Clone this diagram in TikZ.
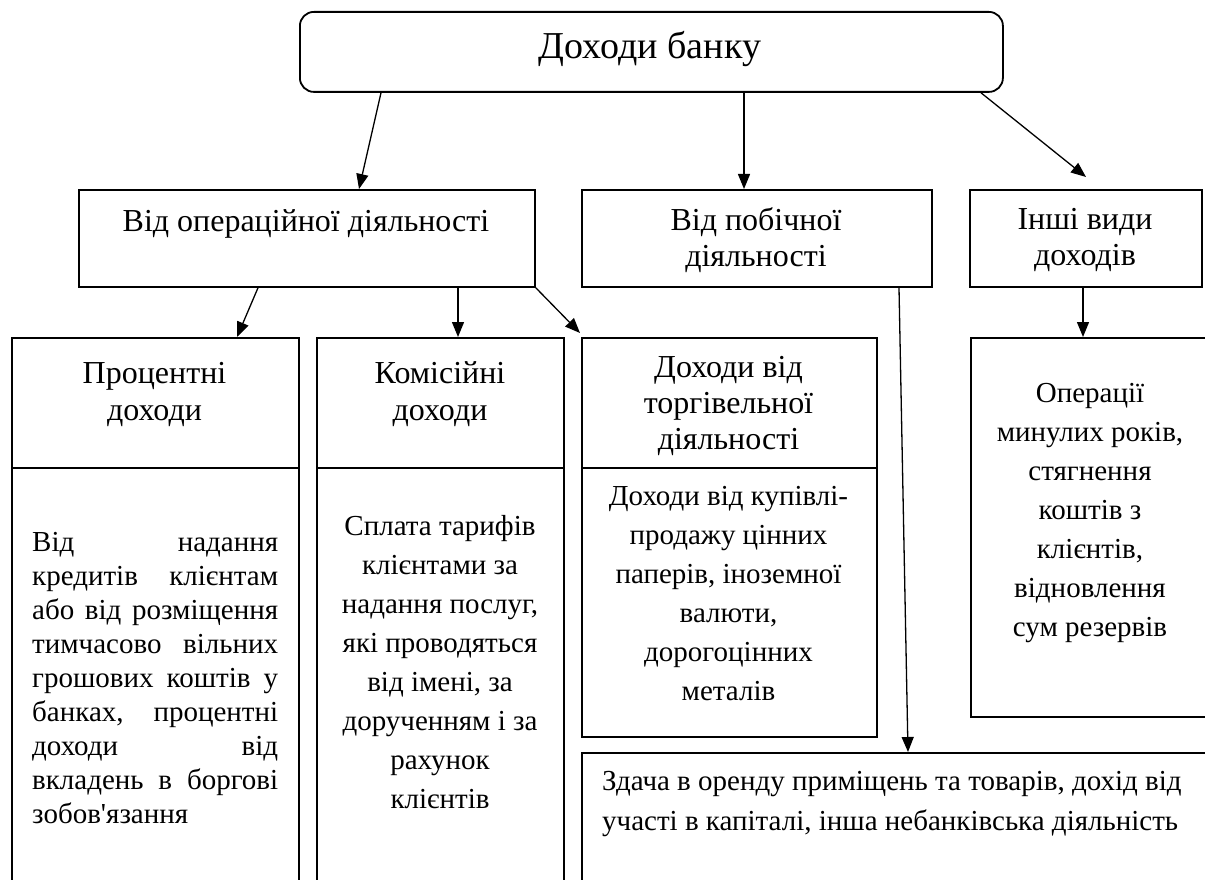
\documentclass[tikz,border=0pt]{standalone}
\usepackage{fontspec}
\setmainfont{Liberation Serif}[Ligatures=TeXOff]
\usetikzlibrary{arrows.meta}
\begin{document}
\begin{tikzpicture}[x=1pt,y=-1pt,
  bx/.style={draw, line width=1.8pt, inner sep=0pt, anchor=north west},
  arr/.style={line width=1.3pt, -{Triangle[length=15pt,width=12pt]}},
  ln/.style={line width=1.8pt},
  lvtwo/.style={align=center, inner sep=0pt, font=\fontsize{32}{36}\selectfont},
  ttl/.style={align=center, inner sep=0pt, font=\fontsize{32}{37}\selectfont},
  bd/.style={align=center, inner sep=0pt, font=\fontsize{29}{39}\selectfont},
]
\useasboundingbox (0,0) rectangle (1205,880);
\clip (0,0) rectangle (1205,880);

% boxes
\node[bx, rounded corners=14pt, minimum width=703pt, minimum height=80pt] (top) at (299,11) {};
\node[bx, minimum width=456pt, minimum height=97pt] (op) at (78,189) {};
\node[bx, minimum width=350pt, minimum height=97pt] (side) at (581,189) {};
\node[bx, minimum width=232pt, minimum height=97pt] (oth) at (969,189) {};
\node[bx, minimum width=287pt, minimum height=580pt] (proc) at (11,337) {};
\node[bx, minimum width=247pt, minimum height=580pt] (comm) at (316,337) {};
\node[bx, minimum width=295pt, minimum height=399pt] (trade) at (581,337) {};
\node[bx, minimum width=242pt, minimum height=379pt] (ops) at (970,337) {};
\node[bx, minimum width=640pt, minimum height=200pt] (bot) at (581,752) {};

% dividers
\coordinate (d1) at (0,468);
\draw[ln] (proc.west |- d1) -- (proc.east |- d1);
\draw[ln] (comm.west |- d1) -- (comm.east |- d1);
\draw[ln] (trade.west |- d1) -- (trade.east |- d1);

% arrows
\draw[arr] ([xshift=82pt]top.south west) -- ([xshift=281pt]op.north west);
\draw[arr] ([xshift=445pt]top.south west) -- ([xshift=163pt]side.north west);
\draw[arr] ([xshift=682pt]top.south west) -- ([xshift=117pt,yshift=12pt]oth.north west);
\draw[arr] ([xshift=180pt]op.south west) -- ([xshift=226pt]proc.north west);
\draw[arr] ([xshift=380pt]op.south west) -- ([xshift=142pt]comm.north west);
\draw[arr] (op.south east) -- ([xshift=-1pt,yshift=4pt]trade.north west);
\draw[arr] ([xshift=318pt]side.south west) -- ([xshift=327pt]bot.north west);
\draw[arr] ([xshift=114pt]oth.south west) -- ([xshift=113pt]ops.north west);

% texts
\node[inner sep=0pt, font=\fontsize{38}{44}\selectfont] (t0) at (650,49) {Доходи банку};
\node[lvtwo] (t1) at (306,224) {Від операційної діяльності};
\node[lvtwo] (t2) at (756,240) {Від побічної\\діяльності};
\node[lvtwo] (t3) at (1085,240) {Інші види\\доходів};

\node[ttl] (t4) at (154.5,394) {Процентні\\доходи};
\node[ttl] (t5) at (440,394) {Комісійні\\доходи};
\node[ttl, font=\fontsize{32}{36}\selectfont] (t6) at (728.5,406) {Доходи від\\торгівельної\\діяльності};

\node[align=left, inner sep=0pt, anchor=west, font=\fontsize{29}{34}\selectfont] (b1) at (32,678) {%
\makebox[246pt][s]{Від надання}\\
\makebox[246pt][s]{кредитів клієнтам}\\
\makebox[246pt][s]{або від розміщення}\\
\makebox[246pt][s]{тимчасово вільних}\\
\makebox[246pt][s]{грошових коштів у}\\
\makebox[246pt][s]{банках, процентні}\\
\makebox[246pt][s]{доходи від}\\
\makebox[246pt][s]{вкладень в боргові}\\
зобов'язання};

\node[bd] (b2) at (440,662) {Сплата тарифів\\клієнтами за\\надання послуг,\\які проводяться\\від імені, за\\дорученням і за\\рахунок\\клієнтів};
\node[bd] (b3) at (728.5,594) {Доходи від купівлі-\\продажу цінних\\паперів, іноземної\\валюти,\\дорогоцінних\\металів};
\node[bd] (b4) at (1090,513) {Операції\\минулих років,\\стягнення\\коштів з\\клієнтів,\\відновлення\\сум резервів};
\node[bd, align=left, anchor=west, font=\fontsize{29}{39.6}\selectfont] (b5) at (602,804) {Здача в оренду приміщень та товарів, дохід від\\участі в капіталі, інша небанківська діяльність};
\end{tikzpicture}
\end{document}
